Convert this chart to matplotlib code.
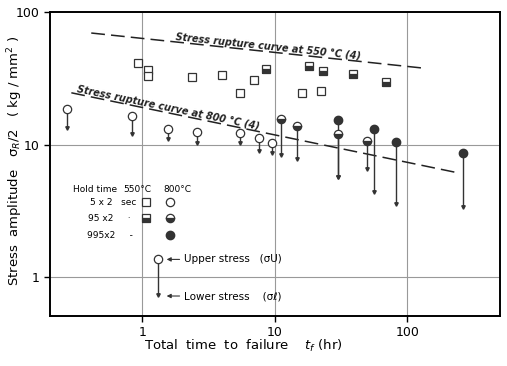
import matplotlib
matplotlib.use("Agg")
import matplotlib.pyplot as plt
import numpy as np

# 550 C, squares (upper stress only)
sq5_x = [0.92, 1.11, 1.11, 2.38, 4.0, 7.0, 5.5, 16.1, 22.4]
sq5_y = [41.4, 36.6, 33.0, 32.4, 33.6, 30.8, 24.6, 24.6, 25.5]
sq95_x = [8.5, 18.2, 23.2, 39.1, 69.5]
sq95_y = [37.2, 39.3, 36.0, 34.2, 29.8]

# 800 C, circles: upper stress with drop to lower stress
c5_x = [0.27, 0.83, 1.57, 2.6, 5.5, 7.6, 9.6]
c5_up = [18.7, 16.5, 13.2, 12.5, 12.3, 11.3, 10.3]
c5_lo = [13.4, 12.1, 11.1, 10.3, 10.2, 9.0, 8.7]
c95_x = [11.2, 14.8, 30.2, 49.9]
c95_up = [15.7, 13.9, 12.1, 10.7]
c95_lo = [8.3, 7.85, 5.65, 6.6]
c995_x = [30.2, 56.4, 82.6, 265]
c995_up = [15.2, 13.2, 10.5, 8.6]
c995_lo = [5.65, 4.36, 3.54, 3.4]

# stress rupture curves
r550_x = [0.41, 128]
r550_y = [69.5, 37.9]
r800_x = [0.29, 235]
r800_y = [24.6, 6.16]

fig = plt.figure(figsize=(5.07, 3.66), dpi=100)
ax = fig.add_axes([0.0986, 0.137, 0.887, 0.83])
ax.set_xscale("log")
ax.set_yscale("log")
ax.set_xlim(0.2, 500)
ax.set_ylim(0.51, 100)

for v in [1, 10, 100]:
    ax.axvline(v, color="#999999", lw=0.8, zorder=0)
for v in [1, 10]:
    ax.axhline(v, color="#999999", lw=0.8, zorder=0)

ax.plot(r550_x, r550_y, color="#222222", lw=1.1, dashes=(9, 4))
ax.plot(r800_x, r800_y, color="#222222", lw=1.1, dashes=(9, 4))

def pins(xs, up, lo, fill):
    for x, u, l in zip(xs, up, lo):
        ax.plot([x, x], [u, l], color="#333333", lw=1.0, zorder=2)
        ax.plot(x, l, marker="v", ms=2.5, color="#333333", zorder=2)
    if fill == "none":
        ax.plot(xs, up, "o", ms=6, mfc="white", mec="#333333", mew=0.9, zorder=3)
    elif fill == "half":
        ax.plot(xs, up, "o", ms=6, fillstyle="bottom", mfc="#333333",
                mfcalt="white", mec="#333333", mew=0.9, zorder=3)
    else:
        ax.plot(xs, up, "o", ms=6, mfc="#333333", mec="#333333", zorder=3)

pins(c5_x, c5_up, c5_lo, "none")
pins(c95_x, c95_up, c95_lo, "half")
pins(c995_x, c995_up, c995_lo, "full")

ax.plot(sq5_x, sq5_y, "s", ms=5.5, mfc="white", mec="#333333", mew=0.9, ls="none")
ax.plot(sq95_x, sq95_y, "s", ms=5.5, fillstyle="bottom", mfc="#333333",
        mfcalt="white", mec="#333333", mew=0.9, ls="none")

# curve labels
ax.text(8.8, 50.3, "Stress rupture curve at 550 \u00b0C (4)", fontsize=7,
        fontweight="bold", style="italic", rotation=-6, rotation_mode="anchor",
        ha="center", va="bottom", color="#222222")
ax.text(1.54, 17.4, "Stress rupture curve at 800 \u00b0C (4)", fontsize=7,
        fontweight="bold", style="italic", rotation=-11.7, rotation_mode="anchor",
        ha="center", va="bottom", color="#222222")

# legend block
fs = 6.5
ax.text(0.30, 4.6, "Hold time", fontsize=fs, ha="left", va="center")
ax.text(0.72, 4.6, "550\u00b0C", fontsize=fs, ha="left", va="center")
ax.text(1.45, 4.6, "800\u00b0C", fontsize=fs, ha="left", va="center")
ax.text(0.40, 3.66, "5 x 2   sec", fontsize=fs, ha="left", va="center")
ax.text(0.39, 2.78, "95 x2     \u00b7", fontsize=fs, ha="left", va="center")
ax.text(0.38, 2.07, "995x2     -", fontsize=fs, ha="left", va="center")
ax.plot(1.07, 3.66, "s", ms=5.5, mfc="white", mec="#333333", mew=0.9)
ax.plot(1.07, 2.78, "s", ms=5.5, fillstyle="bottom", mfc="#333333", mfcalt="white",
        mec="#333333", mew=0.9)
ax.plot(1.6, 3.66, "o", ms=6, mfc="white", mec="#333333", mew=0.9)
ax.plot(1.6, 2.78, "o", ms=6, fillstyle="bottom", mfc="#333333", mfcalt="white",
        mec="#333333", mew=0.9)
ax.plot(1.6, 2.07, "o", ms=6, mfc="#333333", mec="#333333")

# upper / lower stress explanation
ax.plot([1.3, 1.3], [1.36, 0.73], color="#333333", lw=1.0)
ax.plot(1.3, 0.73, marker="v", ms=2.5, color="#333333")
ax.plot(1.3, 1.36, "o", ms=6, mfc="white", mec="#333333", mew=0.9)
ax.annotate("", xy=(1.45, 1.36), xytext=(2.0, 1.36),
            arrowprops=dict(arrowstyle="-|>", lw=0.8, color="#333333",
                            mutation_scale=6))
ax.annotate("", xy=(1.45, 0.72), xytext=(2.0, 0.72),
            arrowprops=dict(arrowstyle="-|>", lw=0.8, color="#333333",
                            mutation_scale=6))
ax.text(2.05, 1.36, "Upper stress   (\u03c3U)", fontsize=7.5, ha="left", va="center")
ax.text(2.05, 0.72, "Lower stress    (\u03c3\u2113)", fontsize=7.5, ha="left", va="center")

ax.set_xticks([1, 10, 100])
ax.set_xticklabels(["1", "10", "100"])
ax.set_yticks([1, 10, 100])
ax.set_yticklabels(["1", "10", "100"])
ax.minorticks_off()
ax.tick_params(labelsize=9, length=4, width=1, direction="out")
for s in ax.spines.values():
    s.set_linewidth(1.4)

fig.text(0.03, 0.56, "Stress  amplitude   \u03c3$_R$/2   ( kg / mm$^2$ )",
         rotation=90, fontsize=9.5, ha="center", va="center")
fig.text(0.48, 0.055, "Total  time  to  failure    $t_f$ (hr)",
         fontsize=9.5, ha="center", va="center")

fig.savefig("out.png", dpi=100)
